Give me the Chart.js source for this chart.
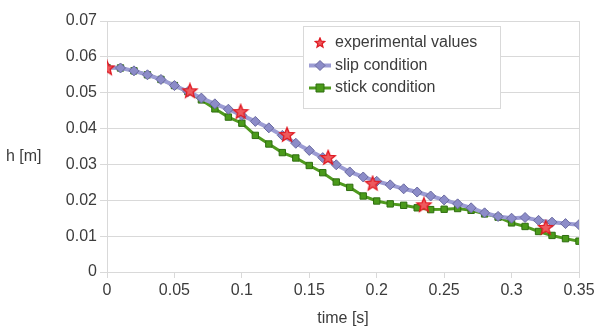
<!DOCTYPE html>
<html>
<head>
<meta charset="utf-8">
<script src="https://cdn.jsdelivr.net/npm/chart.js@4/dist/chart.umd.min.js"></script>
<style>
  html, body { margin: 0; padding: 0; background: #fff; }
  #wrap { width: 600px; height: 334px; }
</style>
</head>
<body>
<div id="wrap"><canvas id="chart"></canvas></div>
<script>
// time samples of the two simulations [s]
const time = [0, 0.01, 0.02, 0.03, 0.04, 0.05, 0.06, 0.07, 0.08, 0.09,
  0.10, 0.11, 0.12, 0.13, 0.14, 0.15, 0.16, 0.17, 0.18, 0.19,
  0.20, 0.21, 0.22, 0.23, 0.24, 0.25, 0.26, 0.27, 0.28, 0.29,
  0.30, 0.31, 0.32, 0.33, 0.34, 0.35];

// h [m], slip condition
const slip = [0.0570, 0.0569, 0.0561, 0.0550, 0.0537, 0.0520, 0.0503, 0.0485, 0.0469, 0.0454,
  0.0437, 0.0420, 0.0402, 0.0381, 0.0359, 0.0339, 0.0319, 0.0299, 0.0279, 0.0265,
  0.0253, 0.0243, 0.0232, 0.0223, 0.0212, 0.0201, 0.0190, 0.0179, 0.0165, 0.0155,
  0.0150, 0.0152, 0.0144, 0.0139, 0.0135, 0.0132];

// h [m], stick condition
const stick = [0.0570, 0.0569, 0.0561, 0.0550, 0.0537, 0.0520, 0.0503, 0.0480, 0.0455, 0.0432,
  0.0415, 0.0381, 0.0357, 0.0333, 0.0318, 0.0297, 0.0277, 0.0251, 0.0236, 0.0212,
  0.0198, 0.0190, 0.0186, 0.0179, 0.0174, 0.0175, 0.0177, 0.0172, 0.0162, 0.0153,
  0.0137, 0.0127, 0.0113, 0.0102, 0.0093, 0.0086];

// measurements
const expTime = [0, 0.0615, 0.0991, 0.1335, 0.164, 0.197, 0.235, 0.3253];
const expH = [0.0568, 0.0504, 0.0446, 0.0382, 0.0318, 0.0246, 0.0186, 0.0123];

const seriesNames = ['experimental values', 'slip condition', 'stick condition'];

const xTicks = { min: 0, max: 0.35, step: 0.05 };
const yTicks = { min: 0, max: 0.07, step: 0.01 };

const FONT = "'Liberation Sans', Arial, sans-serif";
const TEXT = '#3c3c3c';
const GRID = '#d9d9d9';

function starImage(size, rOut, rIn) {
  const c = document.createElement('canvas');
  c.width = size; c.height = size;
  const g = c.getContext('2d');
  const cx = size / 2, cy = size / 2;
  g.beginPath();
  for (let i = 0; i < 10; i++) {
    const r = i % 2 === 0 ? rOut : rIn;
    const a = -Math.PI / 2 + i * Math.PI / 5;
    const px = cx + r * Math.cos(a), py = cy + r * Math.sin(a);
    if (i === 0) g.moveTo(px, py); else g.lineTo(px, py);
  }
  g.closePath();
  g.fillStyle = '#ee5a5e';
  g.fill();
  g.strokeStyle = '#e01a22';
  g.lineWidth = 1.3;
  g.stroke();
  return c;
}

const bigStar = starImage(18, 7.5, 3.3);
const smallStar = starImage(12, 5, 2.2);

const pairs = (xs, ys) => xs.map((x, i) => ({ x: x, y: ys[i] }));
const fmt = v => String(+v.toFixed(3));

// y axis title, drawn horizontally left of the tick labels
const yTitle = {
  id: 'yTitle',
  afterDraw(chart) {
    const ctx = chart.ctx;
    ctx.save();
    ctx.font = '16px ' + FONT;
    ctx.fillStyle = TEXT;
    ctx.textAlign = 'left';
    ctx.textBaseline = 'middle';
    ctx.fillText('h [m]', 6, 157);
    ctx.restore();
  }
};

// boxed legend inside the plot area
const boxLegend = {
  id: 'boxLegend',
  afterDatasetsDraw(chart) {
    const ctx = chart.ctx;
    const x0 = 303.5, y0 = 26.5, w = 197, h = 82;
    ctx.save();
    ctx.fillStyle = '#fff';
    ctx.fillRect(x0, y0, w, h);
    ctx.strokeStyle = GRID;
    ctx.lineWidth = 1;
    ctx.strokeRect(x0, y0, w, h);
    ctx.font = '16px ' + FONT;
    ctx.fillStyle = TEXT;
    ctx.textBaseline = 'middle';
    const rows = [43, 65.5, 88];
    const ds = chart.data.datasets;
    rows.forEach((ry, i) => {
      const d = ds[i];
      const ix = 320;
      if (i === 0) {
        ctx.drawImage(smallStar, ix - 6, ry - 6);
      } else {
        ctx.strokeStyle = d.borderColor;
        ctx.lineWidth = d.borderWidth;
        ctx.beginPath();
        ctx.moveTo(ix - 11, ry);
        ctx.lineTo(ix + 11, ry);
        ctx.stroke();
        ctx.fillStyle = d.pointBackgroundColor;
        ctx.strokeStyle = d.pointBorderColor;
        ctx.lineWidth = 1;
        ctx.beginPath();
        if (d.pointStyle === 'rectRot') {
          const r = 5;
          ctx.moveTo(ix, ry - r); ctx.lineTo(ix + r, ry); ctx.lineTo(ix, ry + r); ctx.lineTo(ix - r, ry);
          ctx.closePath();
        } else {
          ctx.rect(ix - 4, ry - 4, 8, 8);
        }
        ctx.fill();
        ctx.stroke();
        ctx.fillStyle = TEXT;
      }
      ctx.fillText(seriesNames[i], 335, ry);
    });
    ctx.restore();
  }
};

new Chart('chart', {
  type: 'line',
  data: {
    datasets: [{
      label: seriesNames[0],
      data: pairs(expTime, expH),
      showLine: false,
      pointStyle: bigStar,
      borderColor: '#e01a22',
      backgroundColor: '#ee5a5e'
    }, {
      label: seriesNames[1],
      data: pairs(time, slip),
      borderColor: '#9c9cd4',
      borderWidth: 4,
      pointStyle: 'rectRot',
      pointRadius: 5,
      pointBackgroundColor: '#8c8cc8',
      pointBorderColor: '#6a6aa0',
      pointBorderWidth: 1
    }, {
      label: seriesNames[2],
      data: pairs(time, stick),
      borderColor: '#4f9a1e',
      borderWidth: 3,
      pointStyle: 'rect',
      pointRadius: 4.5,
      pointBackgroundColor: '#4a9a1a',
      pointBorderColor: '#2f6e10',
      pointBorderWidth: 1
    }]
  },
  options: {
    responsive: true,
    maintainAspectRatio: false,
    animation: false,
    layout: { padding: { left: 0, right: 21, top: 21, bottom: 0 } },
    plugins: {
      legend: { display: false },
      tooltip: { enabled: false }
    },
    scales: {
      x: {
        type: 'linear',
        min: xTicks.min,
        max: xTicks.max,
        afterFit: s => { s.height = 62; },
        ticks: {
          stepSize: xTicks.step,
          callback: fmt,
          color: TEXT,
          font: { family: FONT, size: 16 },
          padding: 3,
          maxRotation: 0
        },
        grid: {
          color: c => (c.tick && c.tick.value === xTicks.max ? GRID : 'rgba(0,0,0,0)'),
          tickColor: GRID,
          tickLength: 6
        },
        border: { display: false },
        title: {
          display: true,
          text: 'time [s]',
          color: TEXT,
          font: { family: FONT, size: 16 },
          padding: { top: 6, bottom: 6 }
        }
      },
      y: {
        min: yTicks.min,
        max: yTicks.max,
        afterFit: s => { s.width = 107; },
        ticks: {
          stepSize: yTicks.step,
          callback: fmt,
          color: TEXT,
          font: { family: FONT, size: 16 },
          padding: 3
        },
        grid: { color: GRID, tickColor: GRID, tickLength: 7 },
        border: { color: GRID }
      }
    }
  },
  plugins: [yTitle, boxLegend]
});
</script>
</body>
</html>
